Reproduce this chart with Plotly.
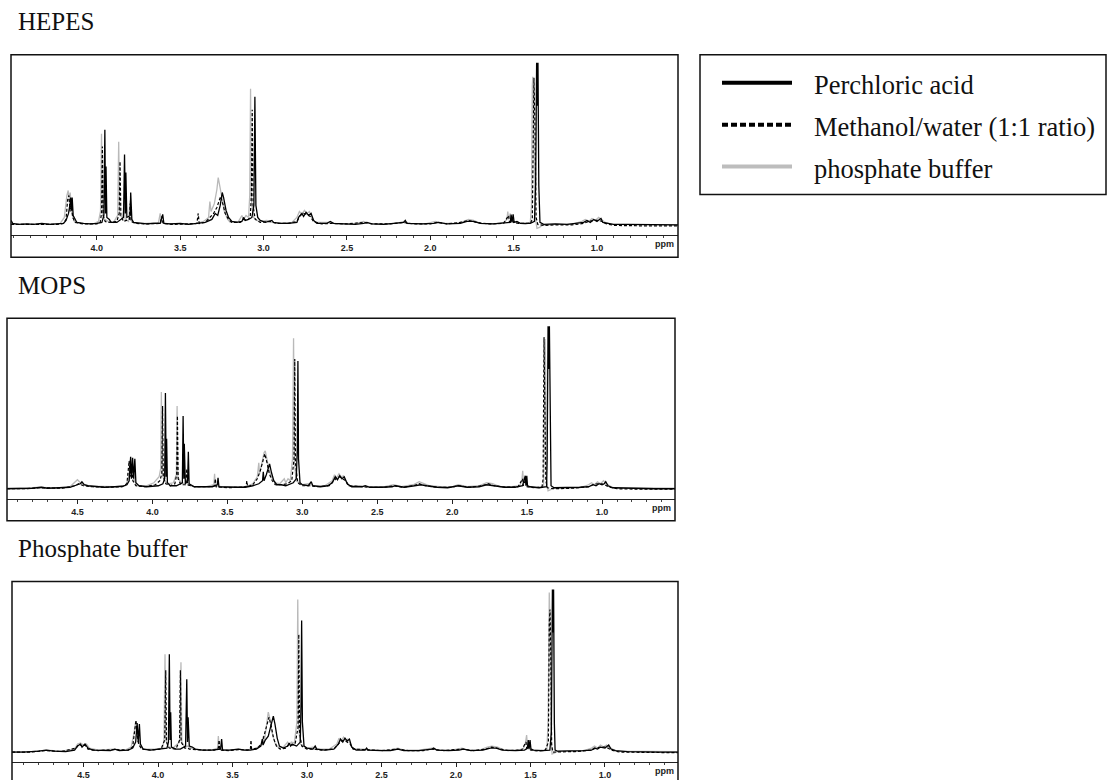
import plotly.graph_objects as go

W, H = 1109, 780

# ---------------- data (ppm, intensity in arbitrary units) ----------------
series_names = ["Perchloric acid", "Methanol/water (1:1 ratio)", "phosphate buffer"]
panel_titles = ["HEPES", "MOPS", "Phosphate buffer"]

hep_ticks = [4.0, 3.5, 3.0, 2.5, 2.0, 1.5, 1.0]
wide_ticks = [4.5, 4.0, 3.5, 3.0, 2.5, 2.0, 1.5, 1.0]

# HEPES - perchloric acid
hep_pca = [(4.515, 5), (4.505, 2), (4.47, 1), (4.42, 1.5), (4.38, 1), (4.33, 2), (4.28, 1), (4.24, 1.5), (4.20, 2), (4.185, 5), (4.17, 12), (4.162, 20), (4.157, 28), (4.152, 15), (4.148, 28), (4.142, 10), (4.13, 6), (4.12, 3), (4.08, 2), (4.04, 1.5), (4.0, 2), (3.97, 3), (3.958, 10), (3.952, 96), (3.948, 12), (3.945, 59), (3.94, 8), (3.925, 6), (3.915, 3), (3.88, 3), (3.84, 8), (3.834, 71), (3.829, 12), (3.826, 53), (3.82, 8), (3.80, 10), (3.797, 33), (3.79, 6), (3.78, 3), (3.74, 2), (3.70, 1.5), (3.66, 2), (3.62, 2), (3.605, 11), (3.598, 2), (3.56, 1.5), (3.50, 2), (3.45, 1), (3.40, 2), (3.35, 3), (3.31, 6), (3.29, 12), (3.275, 10), (3.26, 20), (3.248, 33), (3.24, 28), (3.225, 15), (3.21, 8), (3.19, 4), (3.16, 3), (3.13, 4), (3.12, 8), (3.11, 5), (3.09, 6), (3.07, 8), (3.058, 20), (3.052, 129), (3.046, 20), (3.035, 8), (3.02, 5), (2.99, 3), (2.95, 5), (2.94, 3), (2.90, 2), (2.85, 2), (2.80, 3), (2.79, 8), (2.77, 12), (2.76, 9), (2.745, 13), (2.73, 10), (2.715, 12), (2.70, 5), (2.68, 2), (2.62, 2), (2.60, 4), (2.58, 2), (2.50, 1.5), (2.45, 1), (2.40, 2), (2.38, 3), (2.35, 1.5), (2.28, 1), (2.22, 2), (2.16, 3), (2.15, 5), (2.14, 2), (2.05, 1.5), (1.98, 2), (1.95, 3), (1.90, 1.5), (1.82, 2), (1.78, 4), (1.74, 4), (1.70, 2), (1.62, 1.5), (1.56, 2), (1.52, 3), (1.515, 11), (1.51, 3), (1.503, 11), (1.497, 3), (1.48, 4), (1.46, 2), (1.40, 2), (1.375, 4), (1.368, 40), (1.362, 163), (1.358, 120), (1.354, 163), (1.349, 40), (1.342, 3), (1.32, 1), (1.25, 1.5), (1.18, 1), (1.12, 2), (1.08, 3), (1.06, 5), (1.04, 3), (1.02, 6), (1.00, 4), (0.985, 6), (0.976, 7), (0.965, 3), (0.94, 2), (0.90, 1), (0.82, 1), (0.74, 1), (0.66, 0.5), (0.58, 0.5), (0.514, 0.5)]

# HEPES - methanol/water
hep_mw = [(4.515, 1), (4.47, 1), (4.40, 1), (4.33, 1.5), (4.24, 1), (4.20, 2), (4.185, 6), (4.175, 26), (4.168, 30), (4.16, 14), (4.153, 22), (4.145, 8), (4.13, 3), (4.08, 1.5), (4.0, 1.5), (3.98, 3), (3.972, 12), (3.967, 79), (3.962, 10), (3.95, 4), (3.93, 3), (3.88, 4), (3.866, 12), (3.861, 64), (3.856, 10), (3.84, 4), (3.805, 6), (3.80, 22), (3.795, 4), (3.77, 2), (3.70, 1.5), (3.62, 2), (3.61, 9), (3.603, 2), (3.55, 1), (3.45, 1.5), (3.40, 2), (3.392, 12), (3.386, 2), (3.35, 3), (3.32, 8), (3.30, 12), (3.28, 18), (3.265, 26), (3.258, 29), (3.245, 22), (3.23, 12), (3.21, 6), (3.19, 3), (3.14, 3), (3.12, 6), (3.10, 5), (3.08, 8), (3.073, 30), (3.068, 116), (3.063, 20), (3.05, 6), (3.02, 3), (2.96, 4), (2.92, 2), (2.85, 2), (2.80, 4), (2.78, 10), (2.76, 12), (2.74, 11), (2.72, 9), (2.70, 4), (2.65, 1.5), (2.60, 2), (2.50, 1.5), (2.40, 3), (2.35, 1.5), (2.25, 1.5), (2.16, 3), (2.10, 1.5), (2.00, 1.5), (1.96, 3), (1.90, 1.5), (1.82, 3), (1.77, 5), (1.72, 3), (1.65, 1.5), (1.56, 2), (1.53, 10), (1.525, 3), (1.51, 8), (1.50, 3), (1.47, 2), (1.40, 2), (1.388, 6), (1.382, 120), (1.378, 148), (1.372, 100), (1.365, 8), (1.355, 1), (1.32, 0), (1.25, 0.5), (1.15, 0.5), (1.08, 2), (1.05, 4), (1.02, 5), (0.99, 5), (0.97, 4), (0.95, 2), (0.90, 0), (0.80, -0.5), (0.70, -0.5), (0.60, -0.5), (0.514, -0.5)]

# HEPES - phosphate buffer
hep_pb = [(4.515, 1), (4.46, 1), (4.38, 1.5), (4.30, 1), (4.22, 2), (4.195, 8), (4.18, 30), (4.172, 35), (4.165, 25), (4.16, 33), (4.15, 12), (4.135, 4), (4.10, 2), (4.02, 1.5), (3.99, 4), (3.978, 14), (3.972, 92), (3.966, 12), (3.955, 6), (3.93, 4), (3.90, 3), (3.875, 10), (3.869, 84), (3.863, 10), (3.845, 8), (3.835, 25), (3.83, 6), (3.81, 4), (3.80, 25), (3.795, 5), (3.77, 2), (3.70, 2), (3.63, 3), (3.62, 12), (3.613, 3), (3.57, 1.5), (3.48, 1.5), (3.40, 2), (3.36, 4), (3.33, 8), (3.322, 24), (3.315, 14), (3.295, 22), (3.28, 36), (3.272, 48), (3.262, 40), (3.25, 28), (3.235, 14), (3.215, 6), (3.20, 3), (3.15, 4), (3.13, 10), (3.12, 6), (3.105, 10), (3.09, 8), (3.083, 30), (3.078, 137), (3.073, 25), (3.06, 8), (3.03, 4), (2.98, 5), (2.95, 3), (2.90, 2), (2.83, 3), (2.80, 8), (2.785, 14), (2.77, 11), (2.755, 15), (2.74, 12), (2.725, 14), (2.71, 8), (2.69, 3), (2.62, 3), (2.55, 1.5), (2.45, 1.5), (2.40, 4), (2.37, 2), (2.28, 1.5), (2.20, 2), (2.16, 4), (2.12, 2), (2.03, 1.5), (1.97, 4), (1.93, 2), (1.85, 2), (1.80, 4), (1.77, 6), (1.74, 5), (1.70, 2), (1.62, 1.5), (1.56, 3), (1.54, 6), (1.535, 14), (1.53, 6), (1.52, 12), (1.515, 4), (1.49, 3), (1.43, 1), (1.40, 3), (1.393, 20), (1.388, 140), (1.385, 149), (1.38, 110), (1.372, 10), (1.36, -3), (1.345, -2), (1.33, 0), (1.25, 1), (1.15, 1), (1.09, 4), (1.07, 6), (1.05, 4), (1.03, 7), (1.01, 5), (0.99, 8), (0.97, 5), (0.95, 3), (0.92, 1), (0.85, 1), (0.75, 0.5), (0.65, 0.5), (0.514, 0.5)]

# MOPS - perchloric acid
mops_pca = [(4.97, 0), (4.90, 0), (4.80, 0.5), (4.74, 1.5), (4.70, 0.5), (4.62, 1), (4.55, 1.5), (4.50, 4), (4.48, 5), (4.47, 7), (4.455, 4), (4.43, 3), (4.38, 2), (4.32, 1.5), (4.25, 2), (4.20, 2.5), (4.17, 4), (4.155, 8), (4.145, 32), (4.14, 10), (4.132, 31), (4.125, 10), (4.117, 30), (4.11, 6), (4.09, 3), (4.04, 2), (4.0, 2.5), (3.96, 3), (3.93, 5), (3.918, 10), (3.913, 96), (3.908, 12), (3.905, 50), (3.90, 6), (3.88, 3), (3.84, 3), (3.80, 6), (3.795, 73), (3.79, 10), (3.787, 45), (3.78, 5), (3.765, 8), (3.76, 37), (3.755, 5), (3.72, 2), (3.66, 2), (3.60, 2), (3.567, 4), (3.562, 11), (3.556, 2), (3.50, 1.5), (3.44, 1.5), (3.38, 1.5), (3.33, 3), (3.29, 5), (3.265, 8), (3.26, 17), (3.255, 8), (3.24, 14), (3.225, 22), (3.218, 25), (3.205, 16), (3.19, 8), (3.17, 4), (3.14, 4), (3.11, 3), (3.08, 5), (3.06, 6), (3.04, 10), (3.033, 40), (3.029, 128), (3.025, 30), (3.015, 6), (3.0, 4), (2.96, 3), (2.94, 7), (2.93, 3), (2.88, 2), (2.83, 3), (2.80, 6), (2.78, 12), (2.765, 9), (2.75, 13), (2.735, 10), (2.72, 12), (2.70, 5), (2.67, 2), (2.60, 2), (2.58, 3), (2.55, 1.5), (2.47, 1.5), (2.40, 2), (2.38, 3), (2.32, 1.5), (2.25, 3), (2.21, 4), (2.17, 3), (2.10, 1.5), (2.03, 1), (1.96, 3), (1.90, 1.5), (1.82, 2), (1.77, 4), (1.72, 3), (1.65, 1.5), (1.58, 1.5), (1.53, 3), (1.512, 13), (1.507, 3), (1.502, 13), (1.497, 3), (1.48, 2), (1.42, 1), (1.37, 2), (1.366, 30), (1.36, 163), (1.355, 120), (1.351, 163), (1.346, 60), (1.34, 3), (1.32, 1), (1.25, 1), (1.15, 1.5), (1.09, 2), (1.06, 4), (1.04, 3), (1.02, 5), (1.00, 4), (0.985, 5), (0.975, 7), (0.96, 3), (0.93, 1), (0.85, 0.5), (0.75, 0), (0.65, 0), (0.513, 0)]

# MOPS - methanol/water
mops_mw = [(4.97, 0), (4.85, 0), (4.75, 1), (4.60, 0.5), (4.52, 3), (4.49, 5), (4.46, 3), (4.40, 2), (4.30, 1.5), (4.20, 2), (4.17, 5), (4.155, 28), (4.148, 12), (4.14, 25), (4.13, 8), (4.11, 3), (4.05, 2), (3.98, 4), (3.95, 8), (3.937, 15), (3.932, 83), (3.927, 12), (3.91, 5), (3.88, 3), (3.85, 5), (3.838, 14), (3.833, 73), (3.828, 10), (3.81, 4), (3.78, 4), (3.77, 20), (3.765, 4), (3.72, 2), (3.62, 2), (3.585, 3), (3.58, 10), (3.575, 2), (3.50, 1), (3.42, 1.5), (3.375, 2), (3.37, 8), (3.365, 2), (3.33, 4), (3.30, 10), (3.28, 18), (3.26, 28), (3.25, 35), (3.235, 26), (3.22, 15), (3.20, 8), (3.18, 4), (3.14, 4), (3.10, 5), (3.07, 8), (3.055, 30), (3.05, 130), (3.045, 25), (3.03, 6), (3.0, 3), (2.95, 3), (2.90, 2), (2.82, 3), (2.79, 8), (2.77, 11), (2.75, 12), (2.73, 10), (2.71, 8), (2.69, 3), (2.62, 2), (2.55, 1.5), (2.45, 1.5), (2.39, 3), (2.33, 1.5), (2.26, 3), (2.22, 5), (2.18, 3), (2.10, 1.5), (2.00, 1.5), (1.96, 3), (1.88, 1.5), (1.80, 3), (1.76, 5), (1.72, 3), (1.64, 1.5), (1.56, 2), (1.53, 10), (1.525, 3), (1.51, 9), (1.50, 2), (1.45, 1), (1.40, 2), (1.393, 10), (1.387, 152), (1.382, 100), (1.375, 8), (1.365, 1), (1.32, 0), (1.2, 0.5), (1.09, 2), (1.06, 4), (1.03, 5), (1.00, 5), (0.98, 4), (0.96, 2), (0.90, 0), (0.75, -0.5), (0.60, -0.5), (0.513, -0.5)]

# MOPS - phosphate buffer
mops_pb = [(4.97, 0.5), (4.85, 0.5), (4.75, 1.5), (4.65, 0.5), (4.55, 2), (4.52, 6), (4.50, 9), (4.48, 6), (4.46, 4), (4.42, 2.5), (4.35, 2), (4.25, 2), (4.18, 3), (4.16, 10), (4.15, 25), (4.14, 12), (4.13, 22), (4.12, 8), (4.10, 3), (4.04, 3), (3.99, 6), (3.97, 10), (3.955, 12), (3.945, 20), (3.94, 97), (3.935, 15), (3.92, 8), (3.89, 5), (3.86, 6), (3.84, 14), (3.835, 83), (3.83, 12), (3.81, 6), (3.78, 5), (3.77, 15), (3.765, 4), (3.72, 2), (3.64, 2), (3.59, 4), (3.585, 15), (3.58, 3), (3.52, 1.5), (3.45, 1.5), (3.38, 2), (3.33, 5), (3.30, 12), (3.29, 26), (3.285, 15), (3.27, 25), (3.255, 36), (3.247, 38), (3.235, 30), (3.22, 18), (3.20, 10), (3.18, 6), (3.15, 5), (3.12, 10), (3.11, 6), (3.095, 10), (3.08, 8), (3.065, 30), (3.058, 151), (3.052, 25), (3.04, 8), (3.0, 4), (2.96, 5), (2.92, 3), (2.85, 3), (2.80, 8), (2.785, 14), (2.77, 11), (2.755, 15), (2.74, 12), (2.725, 13), (2.71, 8), (2.69, 3), (2.62, 3), (2.55, 2), (2.45, 2), (2.39, 4), (2.34, 2), (2.26, 4), (2.22, 7), (2.19, 5), (2.15, 3), (2.08, 2), (2.00, 2), (1.96, 4), (1.90, 2), (1.82, 3), (1.77, 6), (1.73, 5), (1.68, 2), (1.60, 2), (1.55, 3), (1.535, 8), (1.529, 18), (1.524, 6), (1.515, 10), (1.51, 4), (1.48, 2), (1.42, 1), (1.39, 3), (1.385, 30), (1.38, 150), (1.376, 120), (1.37, 10), (1.36, -2), (1.345, -1), (1.32, 0.5), (1.25, 1), (1.15, 1), (1.09, 4), (1.07, 6), (1.05, 4), (1.03, 7), (1.01, 5), (0.99, 8), (0.97, 5), (0.95, 3), (0.92, 1), (0.85, 1), (0.75, 0.5), (0.65, 0.5), (0.513, 0.5)]

# Phosphate buffer panel - perchloric acid
pb_pca = [(4.98, 0), (4.90, 0), (4.80, 1), (4.75, 2), (4.70, 1), (4.62, 0.5), (4.56, 2), (4.54, 6), (4.52, 8), (4.51, 5), (4.49, 8), (4.47, 4), (4.44, 2), (4.38, 1.5), (4.32, 1.5), (4.29, 3), (4.26, 1.5), (4.20, 2), (4.17, 4), (4.15, 10), (4.14, 29), (4.133, 10), (4.125, 28), (4.118, 8), (4.10, 3), (4.05, 2), (4.00, 3), (3.97, 3), (3.94, 4), (3.93, 10), (3.924, 98), (3.919, 12), (3.915, 40), (3.91, 5), (3.88, 3), (3.85, 3), (3.815, 6), (3.807, 73), (3.802, 10), (3.798, 35), (3.79, 6), (3.77, 5), (3.75, 3), (3.70, 2), (3.64, 2), (3.58, 3), (3.573, 13), (3.567, 2), (3.52, 2), (3.46, 3), (3.42, 2), (3.38, 2), (3.34, 3), (3.31, 6), (3.30, 13), (3.295, 7), (3.28, 12), (3.26, 16), (3.24, 28), (3.226, 36), (3.215, 28), (3.20, 14), (3.185, 6), (3.16, 4), (3.13, 6), (3.12, 9), (3.11, 6), (3.10, 8), (3.085, 7), (3.07, 6), (3.045, 10), (3.04, 50), (3.036, 132), (3.031, 30), (3.02, 6), (3.0, 4), (2.96, 3), (2.945, 6), (2.935, 3), (2.88, 2), (2.82, 3), (2.79, 8), (2.775, 13), (2.76, 10), (2.745, 14), (2.73, 11), (2.715, 13), (2.70, 5), (2.67, 2), (2.61, 2), (2.60, 4), (2.59, 2), (2.50, 1.5), (2.44, 1.5), (2.39, 3), (2.35, 1.5), (2.25, 1.5), (2.16, 3), (2.15, 4), (2.13, 2), (2.05, 1.5), (1.98, 2), (1.95, 3), (1.90, 1.5), (1.82, 2), (1.77, 4), (1.73, 4), (1.69, 2), (1.60, 1.5), (1.54, 2), (1.52, 4), (1.515, 12), (1.51, 3), (1.503, 12), (1.497, 3), (1.48, 2), (1.42, 1.5), (1.37, 2), (1.36, 20), (1.353, 163), (1.349, 120), (1.345, 163), (1.34, 30), (1.335, 2), (1.32, 1), (1.25, 1), (1.15, 1.5), (1.09, 2), (1.07, 4), (1.05, 3), (1.03, 5), (1.00, 4), (0.985, 6), (0.975, 7), (0.96, 3), (0.93, 1.5), (0.85, 0.5), (0.75, 0), (0.65, 0), (0.51, 0)]

# Phosphate buffer panel - methanol/water
pb_mw = [(4.98, 0), (4.85, 0), (4.75, 1.5), (4.65, 0.5), (4.55, 4), (4.53, 8), (4.51, 6), (4.49, 7), (4.47, 3), (4.40, 1.5), (4.29, 2.5), (4.20, 2), (4.17, 5), (4.155, 20), (4.148, 32), (4.14, 18), (4.13, 8), (4.11, 3), (4.05, 2), (3.98, 3), (3.955, 12), (3.948, 82), (3.943, 10), (3.925, 4), (3.88, 3), (3.855, 12), (3.85, 82), (3.845, 10), (3.82, 4), (3.80, 4), (3.79, 3), (3.70, 2), (3.62, 2), (3.595, 4), (3.59, 12), (3.585, 2), (3.52, 1.5), (3.45, 2.5), (3.40, 2), (3.38, 3), (3.376, 12), (3.372, 3), (3.33, 4), (3.30, 10), (3.28, 20), (3.265, 30), (3.255, 35), (3.24, 26), (3.225, 14), (3.205, 6), (3.18, 3), (3.14, 4), (3.12, 8), (3.10, 7), (3.08, 8), (3.06, 25), (3.055, 118), (3.05, 20), (3.035, 6), (3.0, 3), (2.96, 3), (2.90, 2), (2.82, 3), (2.79, 8), (2.77, 11), (2.75, 12), (2.73, 10), (2.71, 8), (2.69, 3), (2.60, 2), (2.50, 1.5), (2.39, 3), (2.32, 1.5), (2.22, 1.5), (2.16, 3), (2.08, 1.5), (1.96, 3), (1.88, 1.5), (1.80, 3), (1.76, 5), (1.72, 4), (1.65, 1.5), (1.56, 2), (1.53, 10), (1.525, 3), (1.51, 9), (1.50, 2), (1.45, 1), (1.40, 2), (1.38, 10), (1.374, 130), (1.369, 143), (1.364, 100), (1.358, 8), (1.35, 0), (1.32, 0), (1.2, 0.5), (1.09, 2), (1.06, 4), (1.03, 5), (1.00, 5), (0.98, 4), (0.96, 2), (0.90, 0), (0.75, -0.5), (0.60, -0.5), (0.51, -0.5)]

# Phosphate buffer panel - phosphate buffer
pb_pb = [(4.98, 0.5), (4.85, 0.5), (4.75, 2), (4.65, 1), (4.56, 3), (4.54, 8), (4.52, 9), (4.50, 7), (4.48, 8), (4.46, 4), (4.40, 2), (4.30, 3), (4.22, 2), (4.18, 5), (4.16, 20), (4.15, 30), (4.14, 15), (4.13, 22), (4.12, 6), (4.10, 3), (4.02, 3), (3.97, 4), (3.96, 12), (3.953, 98), (3.948, 12), (3.93, 5), (3.90, 4), (3.855, 10), (3.846, 90), (3.84, 10), (3.82, 5), (3.80, 6), (3.78, 4), (3.72, 2), (3.64, 2), (3.60, 4), (3.595, 16), (3.59, 3), (3.52, 2), (3.46, 3), (3.40, 2), (3.34, 4), (3.30, 8), (3.293, 16), (3.288, 9), (3.275, 22), (3.265, 34), (3.26, 40), (3.25, 34), (3.235, 20), (3.215, 9), (3.195, 5), (3.16, 5), (3.13, 10), (3.12, 7), (3.105, 10), (3.085, 9), (3.068, 30), (3.062, 153), (3.056, 25), (3.045, 8), (3.0, 4), (2.96, 5), (2.92, 3), (2.85, 3), (2.80, 8), (2.785, 14), (2.77, 11), (2.755, 15), (2.74, 12), (2.725, 13), (2.71, 8), (2.69, 3), (2.62, 3), (2.55, 2), (2.45, 2), (2.39, 4), (2.35, 2), (2.25, 2), (2.16, 4), (2.12, 2), (2.03, 2), (1.96, 4), (1.92, 2), (1.84, 2), (1.79, 5), (1.76, 6), (1.72, 5), (1.68, 2), (1.60, 2), (1.55, 3), (1.535, 8), (1.526, 17), (1.52, 6), (1.512, 10), (1.505, 4), (1.48, 2), (1.42, 1), (1.39, 3), (1.382, 30), (1.377, 155), (1.374, 160), (1.368, 120), (1.362, 10), (1.355, -2), (1.34, -1), (1.32, 0.5), (1.25, 1), (1.15, 1), (1.09, 4), (1.07, 6), (1.05, 4), (1.03, 7), (1.01, 5), (0.99, 7), (0.97, 5), (0.95, 3), (0.92, 1), (0.85, 1), (0.75, 0.5), (0.65, 0.5), (0.51, 0.5)]

# ---------------- layout helpers ----------------
def px(x):
    return x / W

def py(y):
    return 1 - y / H

styles = {
    "phosphate buffer": dict(color="#b9b9b9", width=1.3, dash="solid"),
    "Methanol/water (1:1 ratio)": dict(color="#000000", width=1.2, dash="3px,2px"),
    "Perchloric acid": dict(color="#000000", width=1.3, dash="solid"),
}

panels = [
    dict(title="HEPES", top=55, xl=11, xr=678, rng=[4.515, 0.514], ticks=hep_ticks,
         data={"Perchloric acid": hep_pca, "Methanol/water (1:1 ratio)": hep_mw, "phosphate buffer": hep_pb}),
    dict(title="MOPS", top=319, xl=7, xr=675, rng=[4.97, 0.513], ticks=wide_ticks,
         data={"Perchloric acid": mops_pca, "Methanol/water (1:1 ratio)": mops_mw, "phosphate buffer": mops_pb}),
    dict(title="Phosphate buffer", top=583, xl=12, xr=678, rng=[4.98, 0.51], ticks=wide_ticks,
         data={"Perchloric acid": pb_pca, "Methanol/water (1:1 ratio)": pb_mw, "phosphate buffer": pb_pb}),
]

fig = go.Figure()
shapes = []
annotations = []
layout_axes = {}

draw_order = ["phosphate buffer", "Methanol/water (1:1 ratio)", "Perchloric acid"]

for i, p in enumerate(panels):
    k = "" if i == 0 else str(i + 1)
    T = p["top"]
    for name in draw_order:
        pts = p["data"][name]
        st = styles[name]
        fig.add_trace(go.Scatter(
            x=[a for a, b in pts], y=[b for a, b in pts],
            mode="lines", name=name, showlegend=False,
            line=dict(color=st["color"], width=st["width"], dash=st["dash"]),
            xaxis="x" + k, yaxis="y" + k, hoverinfo="skip"))
    layout_axes["xaxis" + k] = dict(
        domain=[px(p["xl"]), px(p["xr"])], range=p["rng"], anchor="y" + k,
        tickvals=p["ticks"], ticktext=["%.1f" % t for t in p["ticks"]],
        ticks="outside", ticklen=4, tickwidth=1, tickcolor="#222",
        minor=dict(dtick=0.1, tick0=0, ticks="outside", ticklen=2, tickwidth=1, tickcolor="#444"),
        showline=True, linecolor="#222", linewidth=1, mirror=False,
        showgrid=False, zeroline=False,
        tickfont=dict(family="Liberation Sans, Arial", size=9, color="#222", weight="bold"),
    )
    layout_axes["yaxis" + k] = dict(
        domain=[py(T + 181), py(T)], range=[-10, 171], anchor="x" + k,
        visible=False, showgrid=False, zeroline=False)
    shapes.append(dict(type="rect", xref="paper", yref="paper",
                       x0=px(p["xl"]), x1=px(p["xr"]), y0=py(T + 203), y1=py(T),
                       line=dict(color="#111", width=1.5)))
    annotations.append(dict(text=p["title"], xref="paper", yref="paper",
                            x=px(16), y=py(T - 33), xanchor="left", yanchor="middle",
                            showarrow=False,
                            font=dict(family="Liberation Serif, Times New Roman", size=25, color="#111")))
    annotations.append(dict(text="ppm", xref="paper", yref="paper",
                            x=px(p["xr"] - 2), y=py(T + 190), xanchor="right", yanchor="middle",
                            showarrow=False,
                            font=dict(family="Liberation Sans, Arial", size=9, color="#222", weight="bold")))

# legend box
LX0, LX1, LY0, LY1 = 700, 1106, 55, 195
shapes.append(dict(type="rect", xref="paper", yref="paper",
                   x0=px(LX0), x1=px(LX1), y0=py(LY1), y1=py(LY0),
                   line=dict(color="#111", width=1.5)))
leg_rows = [("Perchloric acid", 85), ("Methanol/water (1:1 ratio)", 127), ("phosphate buffer", 169)]
leg_style = {"Perchloric acid": ("#000", "solid"), "Methanol/water (1:1 ratio)": ("#000", "6px,3px"),
             "phosphate buffer": ("#bdbdbd", "solid")}
for name, yc in leg_rows:
    c, d = leg_style[name]
    shapes.append(dict(type="line", xref="paper", yref="paper",
                       x0=px(722), x1=px(792), y0=py(yc - 2), y1=py(yc - 2),
                       line=dict(color=c, width=4, dash=d)))
    annotations.append(dict(text=name, xref="paper", yref="paper",
                            x=px(812), y=py(yc), xanchor="left", yanchor="middle", showarrow=False,
                            font=dict(family="Liberation Serif, Times New Roman", size=26.5, color="#111")))

fig.update_layout(
    width=W, height=H, margin=dict(l=0, r=0, t=0, b=0),
    paper_bgcolor="white", plot_bgcolor="white", showlegend=False,
    shapes=shapes, annotations=annotations, **layout_axes)

fig.write_html("out.html", config={"displayModeBar": False, "staticPlot": True},
               post_script="document.body.style.margin='0';document.body.style.overflow='hidden';")
